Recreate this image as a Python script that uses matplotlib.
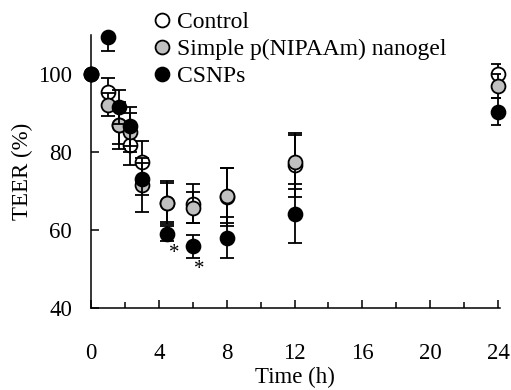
import matplotlib
matplotlib.use("Agg")
import matplotlib.pyplot as plt
from matplotlib.ticker import MultipleLocator
from matplotlib.lines import Line2D

plt.rcParams['font.family'] = ['Liberation Serif', 'DejaVu Serif']

time_h = [0, 1, 1.67, 2.33, 3, 4.5, 6, 8, 12, 24]
control = [100, 95.3, 87.0, 81.8, 77.5, 67.0, 66.8, 68.5, 76.7, 99.9]
control_err = [0, 3.6, 5.0, 5.0, 5.3, 5.5, 5.0, 7.5, 8.2, 2.6]
nanogel = [100, 92.2, 86.9, 85.1, 71.6, 67.0, 65.7, 68.8, 77.5, 97.0]
nanogel_err = [0, 3.0, 6.0, 5.0, 7.0, 5.0, 4.0, 7.0, 7.0, 3.0]
csnps = [100, 109.6, 91.5, 86.6, 73.1, 59.1, 55.8, 58.1, 64.2, 90.4]
csnps_err = [0, 3.6, 4.3, 5.0, 4.0, 2.0, 3.0, 5.2, 7.6, 3.5]
labels = ["Control", "Simple p(NIPAAm) nanogel", "CSNPs"]
star_t = [4.9, 6.4]
star_y = [54.0, 49.8]

fs = 16.5

fig = plt.figure(figsize=(5.11, 3.90), dpi=100)
ax = fig.add_axes([0.178, 0.210, 0.800, 0.700])

series = [(control, control_err, 'white'), (nanogel, nanogel_err, '#c0c0c0'), (csnps, csnps_err, 'black')]
for i, (vals, errs, fc) in enumerate(series):
    ax.errorbar(time_h, vals, yerr=errs, fmt='none', ecolor='black', elinewidth=1.3,
                capsize=5, capthick=1.3, zorder=2 + 2 * i)
    ax.plot(time_h, vals, 'o', ms=10, mfc=fc, mec='black', mew=1.3, ls='none',
            clip_on=False, zorder=3 + 2 * i)

for t, y in zip(star_t, star_y):
    ax.text(t, y, '*', ha='center', va='center', fontsize=15)

ax.set_xlim(0, 24.1)
ax.set_ylim(40, 110)
ax.xaxis.set_major_locator(MultipleLocator(4))
ax.xaxis.set_minor_locator(MultipleLocator(2))
ax.set_yticks([40, 60, 80, 100])
ax.tick_params(axis='both', which='major', direction='in', length=6, width=1.1, labelsize=fs)
ax.tick_params(axis='x', which='minor', direction='in', length=4, width=1.1)
ax.tick_params(axis='x', pad=25)
ax.tick_params(axis='y', pad=13.5)
for s in ['top', 'right']:
    ax.spines[s].set_visible(False)
for s in ['left', 'bottom']:
    ax.spines[s].set_linewidth(1.1)

ax.set_xlabel('Time (h)', fontsize=fs, labelpad=2)
ax.set_ylabel('TEER (%)', fontsize=fs, labelpad=4)

handles = [Line2D([], [], marker='o', ls='none', ms=10, mfc=fc, mec='black', mew=1.3)
           for _, _, fc in series]
fig.legend(handles, labels, loc='upper left', bbox_to_anchor=(0.275, 0.995), frameon=False,
           fontsize=17, handletextpad=0.15, handlelength=1.0, labelspacing=0.23, borderaxespad=0)

fig.savefig('out.png', dpi=100)
